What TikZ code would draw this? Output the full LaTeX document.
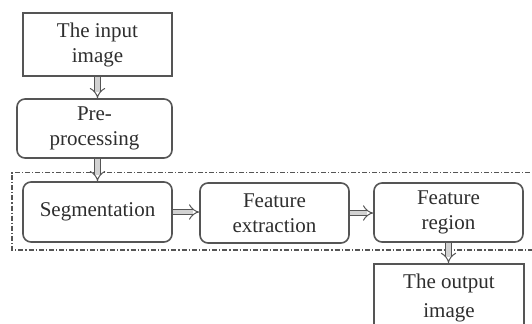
\documentclass[tikz,border=0pt]{standalone}
\usepackage{fontspec}
\setmainfont{Liberation Serif}
\usetikzlibrary{arrows.meta}
\definecolor{linegray}{HTML}{555555}
\definecolor{textgray}{HTML}{2E2E2E}
\tikzset{
  plainbox/.style={draw=linegray, line width=0.8pt, align=center, text=textgray,
    font=\fontsize{10.5}{12.5}\selectfont, inner sep=0pt},
  roundbox/.style={plainbox, rounded corners=4pt},
  fatarrow/.style={draw=linegray, line width=0.5pt, double=gray!35, double distance=2.2pt, -{Implies[length=3pt]}},
  frameline/.style={draw=linegray, line width=0.7pt, dash pattern=on 2.5pt off 1pt on 0.6pt off 1pt}
}
\begin{document}
\begin{tikzpicture}[x=0.5pt,y=-0.5pt]
        \clip (0,0) rectangle (532,323);
        \fill [white] (0,0) rectangle (532,323);
        \node [plainbox, minimum width=74.5pt, minimum height=31.5pt] (input) at (97.5,44.5) {The input\\image};
        \node [roundbox, minimum width=77.5pt, minimum height=29.5pt] (pre) at (94.5,128.5) {Pre-\\processing};
        \node [roundbox, minimum width=74.5pt, minimum height=30pt] (seg) at (97.5,212) {Segmentation};
        \node [roundbox, minimum width=74.5pt, minimum height=30pt] (feat) at (274.5,213) {Feature\\extraction};
        \node [roundbox, minimum width=74.5pt, minimum height=29.5pt] (region) at (448.5,212.5) {Feature\\region};
        \node [plainbox, minimum width=75pt, minimum height=37pt, anchor=north] (output) at (449,263) {};
        \node [text=textgray, font=\fontsize{10.5}{14.5}\selectfont, align=center] (outtext) at (449,298) {The output\\image};
        % dash-dot frame round the middle row
        \draw [frameline] (540,172.5) -- (12,172.5) -- (12,250) -- (540,250);
        \draw [fatarrow] (input.south) -- (input.south |- pre.north);
        \draw [fatarrow] (seg.north |- pre.south) -- (seg.north);
        \draw [fatarrow] (seg.east) -- (seg.east -| feat.west);
        \draw [fatarrow] (feat.east) -- (feat.east -| region.west);
        \draw [fatarrow] (region.south) -- (region.south |- output.north);
\end{tikzpicture}
\end{document}
